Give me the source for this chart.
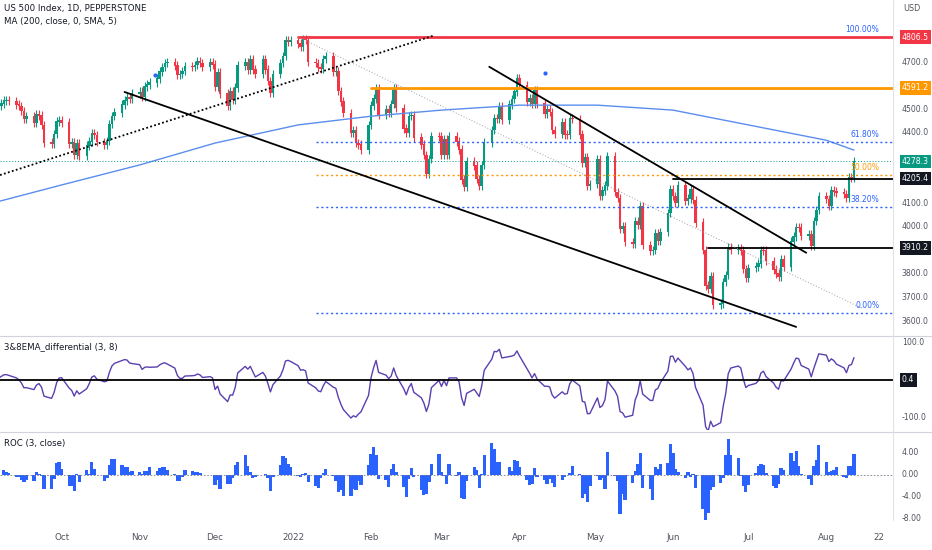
import numpy as np, pandas as pd, matplotlib
matplotlib.use("Agg")
import matplotlib.pyplot as plt, matplotlib.dates as mdates, seaborn as sns

sns.set_theme(style="white")
plt.rcParams['font.family'] = ['DejaVu Sans']

closes = [4497,4514,4524,4536,4537,4535,
 4520,4514,4493,4458,4468,4443,4480,4473,4432,4358,4354,4395,4448,4455,4443,4352,4359,4307,
 4357,4300,4345,4363,4399,4391,4361,4350,4364,4438,4471,4486,4519,4536,4549,4544,4566,4574,4551,4596,4605,
 4613,4630,4660,4680,4697,4701,4685,4646,4649,4662,4683,4682,4688,4704,4697,4682,4701,4690,4594,4655,4567,
 4513,4577,4538,4591,4686,4701,4667,4712,4668,4649,4710,4669,4620,4568,4649,4697,4726,4791,4786,4793,4778,4766,
 4796,4793,4700,4696,4677,4670,4713,4726,4659,4662,4577,4532,4483,4398,4410,4356,4350,4326,4432,4516,
 4546,4589,4477,4501,4484,4521,4587,4504,4418,4401,4471,4475,4380,4349,4305,4225,4288,4385,4384,4306,
 4374,4306,4387,4363,4329,4201,4170,4278,4260,4204,4173,4262,4358,4412,4463,4461,4512,4457,4520,4543,4575,4631,4602,4530,
 4546,4525,4582,4525,4481,4500,4488,4412,4397,4446,4392,4391,4462,4459,4393,4271,4297,4175,4183,4288,4132,
 4155,4175,4300,4147,4123,3991,4001,3935,3930,4024,4008,4088,3923,3900,3901,3974,3941,3978,4058,4158,4132,
 4101,4176,4109,4121,4160,4115,4018,3901,3750,3735,3790,3667,3675,3765,3795,3912,3901,3911,3900,3821,3785,
 3825,3831,3845,3902,3899,3854,3819,3801,3790,3863,3831,3937,3959,3999,3998,3961,3967,3921,4024,4072,4130,
 4119,4091,4155,4151,4145,4140,4122,4210,4207,4280]
first_open = 4490
ma_dates = ['2021-08-27','2021-10-01','2021-11-01','2021-12-01','2022-01-03','2022-02-01','2022-03-01',
            '2022-04-01','2022-05-02','2022-06-01','2022-07-01','2022-08-01','2022-08-12']
ma_vals = [4080,4178,4263,4356,4433,4470,4496,4517,4517,4496,4433,4368,4326]
tick_dates = ['2021-10-01','2021-11-01','2021-12-01','2022-01-01','2022-02-01','2022-03-01','2022-04-01',
              '2022-05-01','2022-06-01','2022-07-01','2022-08-01','2022-08-22']
tick_labels = ['Oct','Nov','Dec','2022','Feb','Mar','Apr','May','Jun','Jul','Aug','22']
price_ticks = [3600,3700,3800,4000,4100,4400,4500,4700]
fib_levels = [4359.4, 4221.3, 4083.1, 3636.0]
fib_labels = ['61.80%','50.00%','38.20%','0.00%']

W,H = 932,550
fig = plt.figure(figsize=(W/100,H/100), dpi=100)
def ax_px(top,bot,right=893):
    return fig.add_axes([0,1-bot/H,right/W,(bot-top)/H])
ax = ax_px(0,335); ax2 = ax_px(337,430); ax3 = ax_px(433,520)

dates = pd.bdate_range(end='2022-08-12', periods=len(closes))
x = mdates.date2num(dates)
c = np.array(closes, float)
o = np.concatenate([[first_open], c[:-1]])
up = c >= o
GREEN, RED = '#089981', '#f23645'
cols = np.where(up, GREEN, RED)
hi = np.maximum(o,c) + 18; lo = np.minimum(o,c) - 18
ax.vlines(x, lo, hi, color=cols, lw=0.8)
ax.bar(x, np.abs(c-o)+2, bottom=np.minimum(o,c)-1, width=1.0, color=cols, linewidth=0)
sns.lineplot(x=mdates.date2num(pd.to_datetime(ma_dates)), y=ma_vals, ax=ax, color='#5b8def', lw=1)

xl = (mdates.date2num(pd.Timestamp('2021-09-06 12:00')), mdates.date2num(pd.Timestamp('2022-08-27 12:00')))
for a in (ax,ax2,ax3):
    a.set_xlim(*xl); a.set_xticks([]); a.set_yticks([])
    for s in a.spines.values(): s.set_visible(False)
ax.set_ylim(3540.6, 4963.7)
ax2.set_ylim(-135,116); ax3.set_ylim(-8.3,7.6)
fig.add_artist(plt.Line2D([0,1],[1-336/H]*2, color='#d0d3db', lw=0.8))
fig.add_artist(plt.Line2D([0,1],[1-431.5/H]*2, color='#d0d3db', lw=0.8))
fig.add_artist(plt.Line2D([893/W]*2,[1-520/H,1], color='#e0e3eb', lw=0.8))

d = lambda s: mdates.date2num(pd.Timestamp(s))
ax.plot([d('2022-01-03'), xl[1]], [4806.5]*2, color='#f23645', lw=2)
ax.plot([d('2022-02-01'), xl[1]], [4591.2]*2, color='#ff9800', lw=2)
for lv in fib_levels:
    colr = '#ff9800' if abs(lv-4221.3)<1 else '#2962ff'
    ax.plot([d('2022-01-10'), xl[1]], [lv]*2, color=colr, lw=1, ls=(0,(1.5,2)))
for lv,lb in zip([4806.5]+fib_levels, ['100.00%']+fib_labels):
    colr = '#ff9800' if lb=='50.00%' else '#2962ff'
    ax.text(d('2022-08-22'), lv+12, lb, color=colr, fontsize=5.5, ha='right', va='bottom')
ax.plot([d('2022-06-01'), xl[1]], [4205.4]*2, color='black', lw=1.3)
ax.plot([d('2022-06-15'), xl[1]], [3910.2]*2, color='black', lw=1.3)
ax.plot(xl, [4278.3]*2, color=GREEN, lw=0.7, ls=(0,(1,2)))
ax.plot([xl[0], d('2022-02-26')], [4220, 4813], color='black', lw=1.3, ls=(0,(1,1.3)))
ax.plot([d('2021-10-26'), d('2022-07-20')], [4573, 3575], color='black', lw=1.3)
ax.plot([d('2022-03-20'), d('2022-07-24')], [4680, 3890], color='black', lw=1.3)
ax.plot([d('2022-01-03'), d('2022-08-15')], [4806.5, 3655], color='#9aa0ab', lw=0.7, ls=(0,(1,2)))
ax.scatter([d('2021-11-07'), d('2022-04-11')], [4645, 4655], s=4, color='#2962ff', zorder=5)

def ylab(a, v, txt, bg=None, fg='#131722'):
    kw = dict(fontsize=5.6, va='center', ha='left', transform=a.get_yaxis_transform(), clip_on=False, color=fg)
    if bg:
        kw['bbox'] = dict(boxstyle='square,pad=0.3', fc=bg, ec='none'); kw['color']='white'
    a.text(1.01, v, txt, **kw)
for t in price_ticks:
    ylab(ax, t, f'{t:.1f}', fg='#50535e')
ylab(ax, 4806.5, '4806.5', '#f23645'); ylab(ax, 4591.2, '4591.2', '#ff9800')
ylab(ax, 4278.3, '4278.3', GREEN); ylab(ax, 4205.4, '4205.4', '#131722'); ylab(ax, 3910.2, '3910.2', '#131722')
ax.text(1.012, 0.975, 'USD', transform=ax.transAxes, fontsize=5.8, color='#50535e', va='center')
ax.text(0.004, 0.975, 'US 500 Index, 1D, PEPPERSTONE', transform=ax.transAxes, fontsize=6.2, color='#131722', va='center')
ax.text(0.004, 0.935, 'MA (200, close, 0, SMA, 5)', transform=ax.transAxes, fontsize=6.2, color='#131722', va='center')

s = pd.Series(c)
osc = s.ewm(span=3, adjust=False).mean() - s.ewm(span=8, adjust=False).mean()
sns.lineplot(x=x, y=osc.values*1.1, ax=ax2, color='#5b3fb0', lw=1)
ax2.axhline(0.4, color='black', lw=1.3)
ylab(ax2, 100, '100.0', fg='#50535e'); ylab(ax2, -100, '-100.0', fg='#50535e'); ylab(ax2, 0.4, '0.4', '#131722')
ax2.text(0.004, 0.9, '3&8EMA_differential (3, 8)', transform=ax2.transAxes, fontsize=6.2, color='#131722', va='center')

roc = (s/s.shift(3)-1)*100
ax3.bar(x, roc.fillna(0).values, width=1.3, color='#2962ff', linewidth=0)
ax3.axhline(0, color='#787b86', lw=0.6, ls=(0,(2,2)))
for v in (4,0,-4,-8):
    ylab(ax3, v, f'{v:.2f}', fg='#50535e')
ax3.text(0.004, 0.88, 'ROC (3, close)', transform=ax3.transAxes, fontsize=6.2, color='#131722', va='center')

for td,tl in zip(tick_dates, tick_labels):
    fig.text(((d(td)-xl[0])/(xl[1]-xl[0]))*893/W, 1-537/H, tl, fontsize=6.3, color='#50535e', ha='center', va='center')

fig.savefig('out.png', dpi=100, facecolor='white')
